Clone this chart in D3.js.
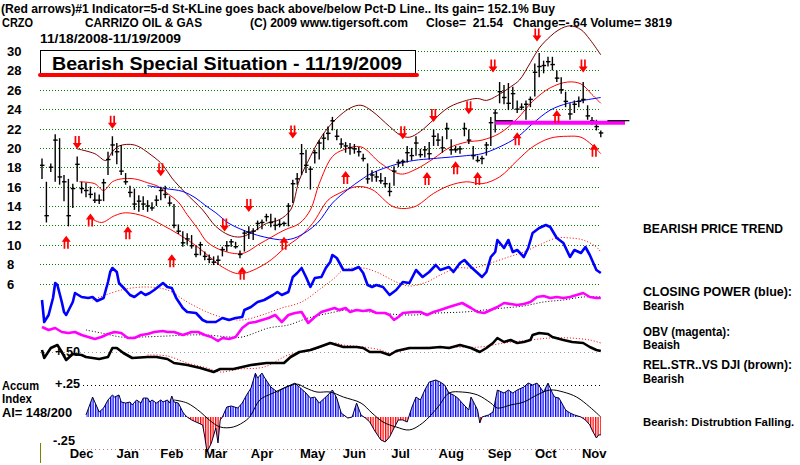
<!DOCTYPE html>
<html lang="en">
<head>
<meta charset="utf-8">
<script src="https://d3js.org/d3.v7.min.js"></script>
<style>
  body { margin: 0; background: #fff; }
  svg text { font-family: "Liberation Sans", Arial, sans-serif; font-weight: bold; fill: #000; white-space: pre; }
  .grid { stroke: #008000; stroke-dasharray: 1,2; stroke-width: 1; }
</style>
</head>
<body>
<svg width="800" height="465" id="chart"></svg>
<script>
// ---- DATA (x values are trading-day numbers, 0 = 11/18/2008) ----
// price bars, one for every 2nd trading day: [high, low, close]
const bars = [
  [18.9,16.8,18.2],[16.5,12.3,13.0],[18.4,17.5,18.0],[21.4,16.5,20.8],[21.0,16.2,17.0],
  [17.2,14.5,16.5],[16.8,11.9,13.0],[16.3,13.8,15.8],[19.1,16.5,18.3],[16.5,15.3,15.8],
  [16.4,14.9,15.6],[16.0,14.8,15.2],[15.4,14.3,14.6],[15.2,14.2,14.6],[16.8,14.5,16.4],
  [19.6,17.2,18.8],[21.2,19.2,20.3],[20.5,18.3,19.6],[20.3,17.2,17.6],[17.4,16.2,16.5],
  [16.1,14.9,15.4],[15.8,13.6,14.2],[15.1,13.4,14.5],[15.0,13.6,14.2],[14.6,13.4,14.0],
  [14.4,13.5,13.8],[15.1,14.0,14.6],[16.0,14.6,15.6],[16.1,14.8,15.2],[15.0,14.0,14.3],
  [14.2,11.7,12.0],[12.1,11.1,11.4],[11.4,9.8,10.2],[11.2,10.0,10.6],[11.0,9.6,9.9],
  [9.9,8.7,9.0],[10.3,8.9,10.0],[9.3,8.4,8.8],[9.0,8.1,8.5],[8.8,7.9,8.2],
  [8.9,7.9,8.4],[9.8,8.8,9.5],[10.4,9.3,9.9],[10.6,9.8,10.3],[10.3,9.6,9.8],
  [9.4,8.6,9.0],[11.5,9.3,11.2],[11.9,10.6,11.3],[11.7,10.5,11.4],[12.5,11.5,12.2],
  [12.6,11.6,12.3],[13.2,12.4,12.9],[13.2,11.8,12.3],[12.8,11.5,12.0],[12.6,11.8,12.1],
  [12.4,11.9,12.2],[14.3,11.9,14.0],[16.7,14.3,16.3],[17.4,16.2,16.8],[20.4,17.2,19.4],
  [19.8,17.4,18.2],[18.1,15.7,17.8],[19.8,18.4,19.5],[20.8,18.8,20.5],[21.5,19.8,21.0],
  [22.2,20.8,21.5],[23.2,21.8,22.8],[21.9,20.8,21.2],[21.0,20.0,20.4],[20.6,19.5,20.2],
  [20.5,19.3,20.0],[20.4,19.4,19.9],[20.1,19.1,19.6],[19.4,18.6,18.9],[18.4,16.3,16.8],
  [17.7,16.5,17.2],[17.6,16.5,17.0],[17.4,16.3,16.6],[17.0,15.9,16.3],[16.4,15.0,15.5],
  [18.1,16.1,17.6],[18.8,18.0,18.5],[18.8,18.1,18.6],[20.2,18.5,19.5],[20.0,18.7,19.2],
  [21.2,19.2,20.5],[19.9,19.0,19.3],[20.2,19.0,19.8],[20.6,18.8,19.4],[21.9,20.2,21.2],
  [21.5,20.2,20.8],[21.2,19.5,20.0],[22.6,20.9,22.0],[20.9,19.3,19.8],[20.2,19.5,19.8],
  [20.2,19.4,19.9],[22.6,21.2,22.0],[21.9,20.4,20.8],[20.2,18.8,19.2],[19.2,18.5,18.7],
  [19.2,18.3,18.9],[20.6,19.2,20.3],[23.2,20.2,22.6],[24.0,21.6,23.6],[26.8,24.6,25.8],
  [26.5,24.5,25.2],[26.7,23.9,24.6],[26.3,24.0,25.6],[24.9,23.6,24.0],[24.6,23.9,24.2],
  [24.9,22.9,24.5],[25.3,24.2,25.0],[28.7,25.3,27.8],[29.8,27.3,28.4],[29.0,27.7,28.5],
  [29.4,28.4,28.9],[29.4,28.0,28.6],[28.0,26.8,27.2],[27.3,25.6,26.0],[25.8,24.2,24.8],
  [24.6,22.9,23.5],[24.9,23.6,24.5],[25.3,24.2,24.8],[26.8,24.6,25.0],[24.4,22.9,23.3],
  [23.2,22.4,22.8],[22.9,21.8,22.2],[21.8,21.1,21.54]
];

// bands [day, price]
const upperBand = [[16,19.9],[24,19.4],[29,18.7],[32,19.6],[35,20.2],[42,20.3],[50,19.2],[55,18.2],
  [59,16.9],[65,15.4],[73,13.6],[79,11.9],[85,11.0],[90,10.8],[95,11.2],[102,12.2],[108,12.6],
  [113,13.6],[117,16.7],[122,19.1],[126,20.8],[132,22.6],[140,24.1],[145,24.4],[150,23.8],
  [158,22.2],[163,21.3],[167,21.1],[172,21.7],[178,22.9],[185,24.2],[193,24.9],[198,25.1],
  [202,24.9],[207,25.4],[213,26.3],[217,27.0],[222,28.8],[226,30.3],[231,31.5],[235,32.2],
  [240,32.6],[245,32.2],[249,31.2],[254,29.6]];
const midBand = [[17,16.5],[24,16.3],[28,15.6],[32,16.5],[36,16.8],[42,16.8],[48,16.4],[53,16.0],
  [57,15.3],[62,14.4],[66,13.1],[71,11.6],[75,10.3],[82,9.4],[91,9.1],[99,10.1],[110,11.5],
  [117,12.2],[122,13.6],[126,16.3],[132,19.1],[137,19.8],[145,20.1],[154,18.4],[163,17.3],
  [170,17.8],[178,18.9],[185,20.0],[193,20.6],[200,20.8],[208,21.5],[216,23.0],[223,24.8],
  [231,26.2],[239,26.8],[245,26.6],[250,25.5],[254,24.6]];
const lowerBand = [[21,12.9],[27,12.3],[33,13.0],[38,13.3],[47,12.9],[55,12.0],[62,11.1],[70,9.9],
  [77,8.6],[82,7.7],[90,7.0],[102,8.1],[111,9.8],[117,10.8],[123,12.2],[130,14.6],[135,15.3],
  [143,16.0],[150,15.7],[160,13.9],[169,13.9],[178,15.3],[185,16.1],[193,16.5],[200,16.3],
  [208,17.0],[216,18.7],[223,20.1],[231,21.0],[239,21.2],[245,21.1],[250,20.3],[254,19.4]];
const longMA = [[48,16.1],[56,15.8],[64,15.5],[70,14.8],[74,14.1],[79,13.3],[85,12.2],[95,11.2],
  [101,10.8],[110,10.5],[116,10.8],[125,12.2],[132,14.3],[139,15.7],[145,16.7],[150,17.4],
  [161,18.3],[169,18.7],[178,18.9],[193,19.2],[200,19.4],[208,20.1],[216,21.1],[223,22.5],
  [231,23.9],[239,24.6],[246,24.9],[254,25.2]];

// signal arrows [day, price]
const sellArrows = [[16,20.5],[32,22.6],[54,17.7],[83,12.0],[94,14.0],[114,21.6],[164,21.5],
  [178,23.3],[194,24.1],[205,28.4],[225,31.6],[246,28.4]];
const buyArrows = [[11,10.3],[22,12.6],[39,11.3],[59,8.4],[91,7.1],[110,10.2],[138,17.0],
  [175,16.9],[188,18.0],[198,16.9],[216,21.0],[234,23.3],[251,19.8]];
const resistance = {from: 206, to: 265, price: 22.6};

// closing power (blue) and its moving average
const closingPower = [[0,30],[1,8],[3,15],[5,32],[6,47],[7,45],[9,28],[10,18],[11,15],[14,28],
  [15,37],[18,33],[21,32],[23,33],[25,29],[28,32],[30,48],[31,58],[32,62],[34,58],[35,47],
  [38,40],[40,35],[42,33],[45,38],[47,35],[49,37],[51,40],[55,47],[57,43],[59,42],[61,32],
  [64,22],[66,18],[70,17],[73,10],[75,8],[79,8],[82,12],[85,10],[88,12],[91,13],[92,20],
  [95,23],[98,28],[101,30],[105,35],[107,38],[109,35],[112,38],[114,53],[116,57],[118,62],
  [120,53],[122,43],[124,52],[127,53],[129,62],[131,68],[132,75],[134,72],[137,60],[141,60],
  [144,63],[146,57],[148,45],[150,43],[152,45],[155,43],[158,35],[161,40],[164,48],[167,47],
  [170,60],[173,53],[176,58],[179,65],[181,60],[185,63],[187,58],[190,67],[192,70],[195,63],
  [198,57],[200,53],[202,58],[204,73],[206,78],[207,90],[210,82],[212,90],[214,78],[216,80],
  [219,73],[221,82],[223,97],[226,102],[229,105],[231,103],[234,92],[237,87],[240,73],
  [242,80],[245,77],[247,83],[249,75],[252,60],[254,57]];
const closingPowerMA = [[23,30],[36,40],[47,43],[57,40],[66,28],[75,18],[83,12],[91,10],[100,15],
  [109,22],[118,28],[127,42],[133,52],[137,60],[146,62],[153,57],[161,48],[167,44],[175,48],
  [181,55],[189,62],[196,62],[204,67],[212,73],[219,78],[226,85],[234,92],[240,92],[246,90],
  [252,83],[254,78]];

// OBV (magenta) and its moving average
const obv = [[0,18],[3,15],[6,17],[9,13],[12,12],[15,13],[18,10],[21,8],[24,6],[27,8],[30,11],
  [33,13],[36,12],[39,7],[42,7],[45,10],[48,11],[51,13],[55,14],[57,13],[60,13],[64,10],[68,13],
  [71,13],[74,10],[77,8],[80,4],[82,7],[85,6],[88,8],[91,17],[94,22],[97,23],[100,25],[103,27],
  [106,30],[109,23],[112,30],[115,32],[118,33],[121,22],[124,28],[127,33],[130,35],[133,37],
  [135,35],[138,37],[140,33],[143,35],[146,34],[149,35],[152,32],[156,32],[158,30],[160,25],
  [162,28],[164,32],[169,33],[172,33],[175,30],[178,33],[181,35],[185,38],[188,40],[191,42],
  [195,37],[198,33],[201,32],[204,35],[207,38],[210,42],[213,41],[216,40],[219,41],[222,43],
  [225,48],[228,49],[231,47],[234,48],[237,47],[240,48],[243,50],[246,52],[249,48],[252,47],
  [254,47]];
const obvMA = [[20,15],[27,12],[36,8],[45,8],[57,9],[66,10],[75,10],[85,8],[91,8],[103,17],
  [112,20],[121,27],[131,32],[139,35],[149,33],[158,31],[169,30],[180,32],[192,33],[201,35],
  [210,37],[219,39],[228,43],[237,45],[246,48],[254,48]];

// relative strength vs DJI and its moving average
const relStrength = [[0,0.52],[1,0.44],[4,0.54],[7,0.57],[9,0.50],[11,0.42],[14,0.48],[18,0.47],
  [20,0.45],[26,0.43],[30,0.45],[32,0.54],[34,0.54],[37,0.49],[41,0.44],[48,0.45],[52,0.45],
  [57,0.43],[60,0.39],[66,0.37],[72,0.34],[78,0.30],[81,0.33],[87,0.33],[93,0.36],[95,0.37],
  [102,0.39],[110,0.39],[113,0.45],[117,0.50],[122,0.52],[126,0.55],[131,0.59],[134,0.57],
  [137,0.55],[143,0.55],[146,0.54],[149,0.50],[154,0.50],[158,0.47],[161,0.51],[167,0.54],
  [172,0.54],[176,0.54],[181,0.55],[185,0.54],[190,0.57],[195,0.54],[199,0.50],[202,0.54],
  [205,0.59],[207,0.64],[210,0.60],[213,0.62],[216,0.59],[219,0.60],[222,0.62],[223,0.67],
  [226,0.69],[230,0.68],[232,0.65],[237,0.62],[241,0.60],[246,0.59],[249,0.55],[252,0.52],
  [254,0.51]];
const relStrengthMA = [[48,0.47],[57,0.46],[66,0.39],[75,0.34],[81,0.30],[90,0.33],[101,0.35],
  [112,0.47],[123,0.52],[133,0.59],[137,0.57],[146,0.55],[154,0.52],[158,0.49],[169,0.54],
  [184,0.55],[199,0.55],[210,0.59],[222,0.62],[231,0.64],[240,0.64],[249,0.62],[254,0.59]];

// accumulation index and its moving average
const accumIndex = [[20,0.016],[22,0.109],[23,0.156],[25,0.078],[26,0.039],[28,0.070],[30,0.133],
  [32,0.172],[33,0.156],[35,0.172],[36,0.117],[38,0.109],[40,0.117],[41,0.094],[43,0.133],
  [45,0.109],[46,0.148],[48,0.148],[49,0.117],[50,0.133],[52,0.109],[54,0.133],[55,0.117],
  [57,0.133],[58,0.109],[59,0.164],[60,0.117],[62,0.109],[64,0.039],[65,0.016],[66,0.0],
  [68,-0.023],[70,-0.039],[73,-0.062],[74,-0.156],[75,-0.273],[77,-0.203],[79,-0.086],
  [80,-0.203],[81,-0.023],[82,0.0],[84,0.078],[86,0.086],[89,0.070],[91,0.109],[93,0.172],
  [95,0.226],[97,0.343],[98,0.304],[100,0.343],[101,0.312],[104,0.234],[107,0.195],[110,0.226],
  [113,0.250],[115,0.265],[117,0.234],[120,0.187],[122,0.148],[124,0.156],[126,0.109],
  [130,0.172],[132,0.211],[134,0.148],[136,0.031],[139,-0.008],[141,0.0],[143,0.109],
  [145,0.016],[147,-0.008],[149,-0.039],[151,-0.101],[154,-0.179],[156,-0.195],[158,-0.156],
  [160,-0.086],[162,-0.023],[164,-0.023],[166,-0.039],[168,0.070],[170,0.156],[172,0.133],
  [174,0.211],[176,0.273],[179,0.289],[181,0.273],[183,0.250],[185,0.187],[187,0.172],
  [189,0.148],[191,0.109],[194,0.055],[195,0.156],[198,0.055],[199,-0.047],[200,0.0],
  [203,0.016],[205,0.039],[207,0.211],[210,0.187],[212,0.211],[214,0.187],[216,0.211],
  [219,0.234],[221,0.265],[223,0.250],[225,0.265],[228,0.195],[230,0.265],[232,0.187],
  [233,0.156],[235,0.148],[236,0.117],[238,0.055],[240,0.031],[242,0.016],[245,0.0],
  [247,-0.023],[249,-0.062],[250,-0.101],[252,-0.164],[253,-0.140],[254,-0.140]];
const accumMA = [[60,0.133],[66,0.109],[72,0.039],[76,-0.023],[81,-0.078],[87,-0.078],[93,-0.023],
  [95,0.016],[99,0.133],[105,0.187],[111,0.234],[116,0.257],[120,0.226],[125,0.195],[131,0.195],
  [137,0.156],[145,0.109],[150,0.031],[155,-0.039],[161,-0.078],[167,-0.101],[173,-0.047],
  [180,0.078],[185,0.187],[191,0.195],[198,0.172],[204,0.109],[207,0.070],[213,0.094],
  [219,0.117],[225,0.172],[231,0.211],[237,0.195],[243,0.156],[249,0.078],[254,0.0]];

const priceTicks = [30,28,26,24,22,20,18,16,14,12,10,8,6];
const months = [["Dec",18],["Jan",39],["Feb",59],["Mar",79],["Apr",100],["May",123],["Jun",142],
  ["Jul",163],["Aug",186],["Sep",208],["Oct",229],["Nov",251]];

// ---- SCALES ----
const svg = d3.select("#chart");
const x = d3.scaleLinear().domain([0, 254]).range([42, 600.8]);
const y = d3.scaleLinear().domain([6, 30]).range([283.5, 51]);
const cpY = d3.scaleLinear().domain([0, 100]).range([330, 230]);
const obvY = d3.scaleLinear().domain([0, 50]).range([345, 295]);
const rsY = d3.scaleLinear().domain([0.5, 0.7]).range([352, 332]);
const aiY = d3.scaleLinear().domain([-0.25, 0.25]).range([449, 385]);

const defs = svg.append("defs");
function stripes(id, color) {
  const p = defs.append("pattern").attr("id", id).attr("patternUnits", "userSpaceOnUse")
    .attr("width", 2.5).attr("height", 10);
  p.append("rect").attr("width", 1.3).attr("height", 10).attr("fill", color);
}
stripes("blueStripes", "#0000ff");
stripes("redStripes", "#ff0000");
defs.append("clipPath").attr("id", "aboveZero").append("rect")
  .attr("x", 0).attr("y", 300).attr("width", 800).attr("height", aiY(0) - 300);
defs.append("clipPath").attr("id", "belowZero").append("rect")
  .attr("x", 0).attr("y", aiY(0)).attr("width", 800).attr("height", 100);

function label(px, py, s, size, len, anchor) {
  const t = svg.append("text").attr("x", px).attr("y", py).attr("font-size", size).text(s);
  if (len) t.attr("textLength", len).attr("lengthAdjust", "spacingAndGlyphs");
  if (anchor) t.attr("text-anchor", anchor);
  return t;
}

// ---- GRID ----
svg.append("g").selectAll("line").data(priceTicks).join("line")
  .attr("class", "grid")
  .attr("x1", 40).attr("x2", 600)
  .attr("y1", d => Math.round(y(d)) + 0.5).attr("y2", d => Math.round(y(d)) + 0.5);

svg.selectAll("text.tick").data(priceTicks).join("text")
  .attr("class", "tick").attr("x", 7).attr("y", d => y(d) + 5)
  .attr("font-size", 13).text(d => d);

// panel reference lines
function refLine(py, x1, color) {
  svg.append("line").attr("x1", x1).attr("x2", 600)
    .attr("y1", Math.round(py) + 0.5).attr("y2", Math.round(py) + 0.5)
    .attr("stroke", color).attr("stroke-dasharray", "1,3");
}
refLine(rsY(0.5), 40, "#999");
refLine(aiY(0.25), 83, "#000");
refLine(aiY(-0.25), 83, "#b08080");

// ---- BANDS ----
const priceLine = d3.line().x(d => x(d[0])).y(d => y(d[1])).curve(d3.curveCatmullRom);
function band(data, color) {
  svg.append("path").datum(data).attr("d", priceLine)
    .attr("fill", "none").attr("stroke", color).attr("stroke-width", 1);
}
band(upperBand, "#800000");
band(midBand, "#ff0000");
band(lowerBand, "#ff0000");
band(longMA, "#0000ff");

// ---- PRICE BARS ----
const g = svg.append("g").attr("stroke", "#000").attr("stroke-width", 1.4);
g.selectAll("line.hl").data(bars).join("line").attr("class", "hl")
  .attr("x1", (d, i) => x(2 * i)).attr("x2", (d, i) => x(2 * i))
  .attr("y1", d => y(d[0])).attr("y2", d => y(d[1]));
g.selectAll("line.cl").data(bars).join("line").attr("class", "cl")
  .attr("x1", (d, i) => x(2 * i) - 2).attr("x2", (d, i) => x(2 * i) + 2.5)
  .attr("y1", d => y(d[2])).attr("y2", d => y(d[2]));

// resistance line
svg.append("line")
  .attr("x1", x(resistance.from)).attr("x2", x(resistance.to))
  .attr("y1", y(resistance.price)).attr("y2", y(resistance.price))
  .attr("stroke", "#ff00ff").attr("stroke-width", 4);
[[resistance.from, resistance.from + 8], [resistance.to - 8, resistance.to + 2]].forEach(s => {
  svg.append("line").attr("x1", x(s[0])).attr("x2", x(s[1]))
    .attr("y1", y(resistance.price) - 2).attr("y2", y(resistance.price) - 2)
    .attr("stroke", "#000").attr("stroke-width", 1.2);
});

// ---- ARROWS ----
function arrow(cx, cy, down) {
  const s = down ? 1 : -1;
  return `M${cx - 2.6},${cy - 7 * s} h1.7 v${7 * s} h-1.7 Z ` +
         `M${cx + 0.9},${cy - 7 * s} h1.7 v${7 * s} h-1.7 Z ` +
         `M${cx - 4.5},${cy} L${cx + 4.5},${cy} L${cx},${cy + 6 * s} Z`;
}
svg.append("g").selectAll("path").data(sellArrows).join("path")
  .attr("d", d => arrow(x(d[0]), y(d[1]), true)).attr("fill", "#ff0000");
svg.append("g").selectAll("path").data(buyArrows).join("path")
  .attr("d", d => arrow(x(d[0]), y(d[1]), false)).attr("fill", "#ff0000");

// ---- INDICATORS ----
function series(data, sy, color, width, dash, curve) {
  const line = d3.line().x(d => x(d[0])).y(d => sy(d[1])).curve(curve || d3.curveLinear);
  const p = svg.append("path").datum(data).attr("d", line)
    .attr("fill", "none").attr("stroke", color).attr("stroke-width", width)
    .attr("stroke-linejoin", "round");
  if (dash) p.attr("stroke-dasharray", dash);
}
series(closingPowerMA, cpY, "#ff0000", 1, "1,2", d3.curveCatmullRom);
series(closingPower, cpY, "#0000ff", 2.6);
series(obvMA, obvY, "#000", 1, "1,2", d3.curveCatmullRom);
series(obv, obvY, "#ff00ff", 2.6);
series(relStrengthMA, rsY, "#ff0000", 1, "1,2", d3.curveCatmullRom);
series(relStrength, rsY, "#000", 2.6);

// accumulation index histogram
const aiArea = d3.area().x(d => x(d[0])).y0(aiY(0)).y1(d => aiY(d[1]));
svg.append("path").datum(accumIndex).attr("d", aiArea)
  .attr("fill", "url(#blueStripes)").attr("clip-path", "url(#aboveZero)");
svg.append("path").datum(accumIndex).attr("d", aiArea)
  .attr("fill", "url(#redStripes)").attr("clip-path", "url(#belowZero)");
series(accumIndex, aiY, "#000033", 1);
series(accumMA, aiY, "#000", 1, null, d3.curveCatmullRom);

// ---- TITLE BOX ----
svg.append("rect").attr("x", 40.5).attr("y", 50.5).attr("width", 375).attr("height", 24)
  .attr("fill", "#fff").attr("stroke", "#000");
svg.append("line").attr("x1", 40).attr("x2", 417).attr("y1", 75).attr("y2", 75)
  .attr("stroke", "#ff0000").attr("stroke-width", 4).attr("stroke-linecap", "round");
label(52, 70, "Bearish Special Situation - 11/19/2009", 19, 350);

// ---- HEADER ----
label(1, 13, "(Red arrows)#1 Indicator=5-d St-KLine goes back above/below Pct-D Line.. Its gain= 152.1% Buy", 12, 554);
label(2, 27, "CRZO", 12, 31);
label(85, 27, "CARRIZO OIL & GAS", 12, 117);
label(250, 27, "(C) 2009 www.tigersoft.com", 12, 158);
label(426, 27, "Close=  21.54", 12, 77);
label(513, 27, "Change=-.64 Volume= 3819", 12, 159);
label(40, 43, "11/18/2008-11/19/2009", 12, 141);

// ---- RIGHT NOTES ----
label(643, 233, "BEARISH PRICE TREND", 12, 140);
label(643, 296, "CLOSING POWER (blue):", 12, 149);
label(643, 310, "Bearish", 12, 41);
label(643, 336, "OBV (magenta):", 12, 87);
label(643, 349, "Beaish", 12, 37);
label(643, 369, "REL.STR..VS DJI (brown):", 12, 149);
label(643, 383, "Bearish", 12, 41);
label(643, 426, "Bearish: Distrubtion Falling.", 11.3);

// ---- LOWER PANEL LABELS ----
label(2, 390, "Accum", 12, 37);
label(2, 403, "Index", 12, 30);
label(2, 417, "AI= 148/200", 12, 70);
label(55, 388, "+.25", 12, 25);
label(53, 445, "-.25", 12, 22);
label(55, 356, "+.50", 12, 25);

svg.selectAll("text.month").data(months).join("text")
  .attr("class", "month").attr("x", d => x(d[1])).attr("y", 458)
  .attr("text-anchor", "middle").attr("font-size", 13).text(d => d[0]);

svg.append("line").attr("x1", 40.5).attr("x2", 40.5).attr("y1", 443).attr("y2", 463)
  .attr("stroke", "#808000");
</script>
</body>
</html>
